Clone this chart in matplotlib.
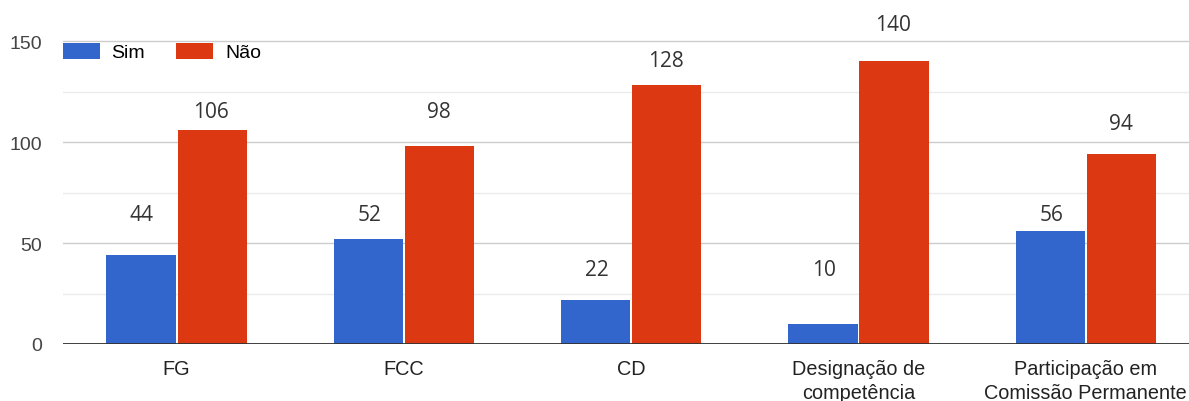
import matplotlib.pyplot as plt
import numpy as np

plt.rcParams['font.family'] = ['Liberation Sans', 'DejaVu Sans']

categories = ['FG', 'FCC', 'CD', 'Designação de\ncompetência',
              'Participação em\nComissão Permanente']
sim = [44, 52, 22, 10, 56]
nao = [106, 98, 128, 140, 94]
# where the value labels sit (data units), as in the original
sim_label_y = [64, 64, 37, 37, 64]
nao_label_y = [115, 115, 140.5, 158, 109]

blue = '#3366CC'
red = '#DC3912'

fig = plt.figure(figsize=(11.89, 4.02), dpi=100)
ax = fig.add_axes([63 / 1189, 57 / 402, 1 - 63 / 1189, 1 - 57 / 402])

x = np.arange(len(categories))
w = 0.305
ax.bar(x - w / 2 - 0.004, sim, w, color=blue, label='Sim', zorder=3)
ax.bar(x + w / 2 + 0.004, nao, w, color=red, label='Não', zorder=3)

for i in range(len(categories)):
    ax.text(x[i] - w / 2, sim_label_y[i], str(sim[i]), ha='center', va='center',
            fontsize=15, color='#333333', family='Open Sans')
    ax.text(x[i] + w / 2, nao_label_y[i], str(nao[i]), ha='center', va='center',
            fontsize=15, color='#333333', family='Open Sans')

ax.set_xlim(-0.5, 4.454)
ax.set_ylim(0, 170.8)
ax.set_yticks([0, 50, 100, 150])
ax.set_yticks([25, 75, 125], minor=True)
ax.grid(axis='y', which='major', color='#cccccc', linewidth=1, zorder=0)
ax.grid(axis='y', which='minor', color='#ebebeb', linewidth=1, zorder=0)
ax.axhline(0, color='#333333', linewidth=1.3, zorder=4)

ax.set_xticks(x)
ax.set_xticklabels(categories, fontsize=14.3, color='#222222', linespacing=1.3)
ax.tick_params(axis='x', length=0, pad=11)
ax.tick_params(axis='y', which='both', length=0, pad=15, labelsize=14,
               labelcolor='#444444')
for s in ax.spines.values():
    s.set_visible(False)

ax.legend(loc='center left', bbox_to_anchor=(0.0, 1 - 53 / 345), ncol=2,
          frameon=False, fontsize=14, handlelength=1.9, handleheight=0.88,
          columnspacing=1.6, handletextpad=0.6, borderaxespad=0, borderpad=0)

fig.savefig('out.png', dpi=100)
